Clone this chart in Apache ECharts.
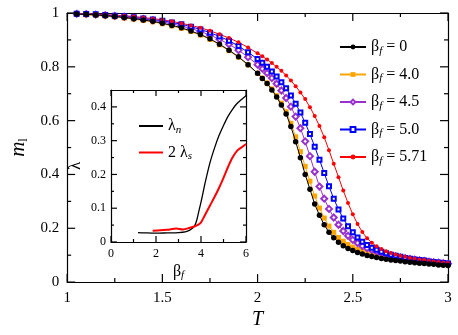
<!DOCTYPE html>
<html>
<head>
<meta charset="utf-8">
<script src="https://cdn.jsdelivr.net/npm/echarts@6/dist/echarts.min.js"></script>
<style>
html, body { margin: 0; padding: 0; background: #fff; }
#chart { width: 458px; height: 335px; }
</style>
</head>
<body>
<div id="chart"></div>
<script>
// temperatures (step 0.05 up to 2, then 0.025)
var temps = [1.05, 1.1, 1.15, 1.2, 1.25, 1.3, 1.35, 1.4, 1.45, 1.5, 1.55, 1.6, 1.65, 1.7, 1.75, 1.8, 1.85, 1.9, 1.95, 2.0,
    2.025, 2.05, 2.075, 2.1, 2.125, 2.15, 2.175, 2.2, 2.225, 2.25, 2.275, 2.3, 2.325, 2.35, 2.375, 2.4, 2.425, 2.45, 2.475, 2.5,
    2.525, 2.55, 2.575, 2.6, 2.625, 2.65, 2.675, 2.7, 2.725, 2.75, 2.775, 2.8, 2.825, 2.85, 2.875, 2.9, 2.925, 2.95, 2.975, 3.0];

var mBeta0 = [0.996, 0.995, 0.993, 0.990, 0.987, 0.983, 0.979, 0.974, 0.969, 0.962, 0.954, 0.945, 0.933, 0.920, 0.904, 0.884, 0.862, 0.837, 0.808, 0.776,
    0.757, 0.738, 0.714, 0.688, 0.658, 0.625, 0.578, 0.522, 0.462, 0.400, 0.345, 0.290, 0.248, 0.213, 0.185, 0.165, 0.148, 0.135, 0.125, 0.117,
    0.110, 0.104, 0.099, 0.095, 0.091, 0.088, 0.085, 0.082, 0.080, 0.078, 0.076, 0.074, 0.072, 0.070, 0.069, 0.067, 0.066, 0.064, 0.063, 0.062];
var mBeta40 = [0.995, 0.993, 0.991, 0.988, 0.985, 0.981, 0.977, 0.972, 0.967, 0.960, 0.952, 0.943, 0.931, 0.918, 0.902, 0.882, 0.860, 0.836, 0.807, 0.776,
    0.758, 0.740, 0.718, 0.693, 0.665, 0.633, 0.590, 0.540, 0.485, 0.430, 0.375, 0.320, 0.275, 0.238, 0.208, 0.185, 0.166, 0.152, 0.140, 0.130,
    0.122, 0.115, 0.109, 0.104, 0.099, 0.095, 0.092, 0.089, 0.086, 0.083, 0.081, 0.079, 0.077, 0.075, 0.073, 0.071, 0.069, 0.068, 0.066, 0.065];
var mBeta45 = [0.997, 0.996, 0.994, 0.992, 0.989, 0.986, 0.982, 0.978, 0.973, 0.967, 0.960, 0.952, 0.942, 0.931, 0.918, 0.902, 0.884, 0.862, 0.836, 0.808,
    0.793, 0.777, 0.758, 0.737, 0.712, 0.684, 0.652, 0.615, 0.572, 0.523, 0.468, 0.410, 0.355, 0.310, 0.272, 0.240, 0.213, 0.190, 0.172, 0.157,
    0.145, 0.134, 0.126, 0.119, 0.113, 0.108, 0.103, 0.099, 0.095, 0.092, 0.089, 0.086, 0.083, 0.081, 0.079, 0.076, 0.074, 0.072, 0.070, 0.068];
var mBeta50 = [0.997, 0.996, 0.995, 0.993, 0.990, 0.988, 0.984, 0.980, 0.976, 0.971, 0.965, 0.958, 0.949, 0.939, 0.927, 0.913, 0.897, 0.877, 0.854, 0.829,
    0.815, 0.800, 0.783, 0.764, 0.743, 0.720, 0.693, 0.663, 0.630, 0.592, 0.550, 0.503, 0.455, 0.405, 0.356, 0.310, 0.270, 0.236, 0.208, 0.185,
    0.166, 0.150, 0.138, 0.128, 0.120, 0.113, 0.107, 0.102, 0.098, 0.094, 0.090, 0.087, 0.084, 0.082, 0.080, 0.077, 0.075, 0.073, 0.071, 0.069];
var mBeta571 = [0.998, 0.997, 0.996, 0.994, 0.992, 0.990, 0.987, 0.983, 0.979, 0.975, 0.969, 0.962, 0.954, 0.945, 0.934, 0.921, 0.907, 0.891, 0.872, 0.850,
    0.839, 0.827, 0.814, 0.800, 0.785, 0.768, 0.749, 0.728, 0.705, 0.680, 0.650, 0.617, 0.580, 0.538, 0.490, 0.440, 0.390, 0.340, 0.294, 0.252,
    0.216, 0.186, 0.163, 0.146, 0.133, 0.123, 0.115, 0.108, 0.103, 0.098, 0.094, 0.090, 0.087, 0.084, 0.082, 0.079, 0.077, 0.075, 0.073, 0.071];

var legendNames = ['0', '4.0', '4.5', '5.0', '5.71'];

// inset: lambda vs beta_f
var betaN = [1.2, 1.5, 2.0, 2.5, 3.0, 3.3, 3.5, 3.7, 3.8, 3.9, 4.0, 4.2, 4.4, 4.6, 4.8, 5.0, 5.2, 5.4, 5.6, 5.8, 6.0];
var lambdaN = [0.028, 0.027, 0.026, 0.027, 0.028, 0.030, 0.035, 0.046, 0.062, 0.090, 0.118, 0.180, 0.235, 0.278, 0.315, 0.345, 0.372, 0.393, 0.410, 0.422, 0.433];
var betaS = [1.85, 2.2, 2.5, 2.9, 3.2, 3.5, 3.7, 3.9, 4.0, 4.1, 4.2, 4.4, 4.6, 4.8, 5.0, 5.2, 5.4, 5.6, 5.8, 6.0];
var lambdaS = [0.033, 0.035, 0.036, 0.040, 0.037, 0.042, 0.046, 0.052, 0.058, 0.070, 0.083, 0.108, 0.133, 0.160, 0.190, 0.222, 0.250, 0.270, 0.280, 0.290];

// tick positions (major / minor) for the framed axes
var mainXMajor = [1, 1.5, 2, 2.5, 3];
var mainXMinor = [1.25, 1.75, 2.25, 2.75];
var mainYMajor = [0, 0.2, 0.4, 0.6, 0.8, 1];
var mainYMinor = [0.1, 0.3, 0.5, 0.7, 0.9];
var insetXMajor = [0, 2, 4, 6];
var insetXMinor = [1, 3, 5];
var insetYMajor = [0, 0.1, 0.2, 0.3, 0.4];
var insetYMinor = [0.05, 0.15, 0.25, 0.35];

var FONT = 'Liberation Serif';

function pairs(xs, ys) {
    return xs.map(function (x, i) { return [x, ys[i]]; });
}

// [value, isMajor, direction(0 = x, 1 = y)]
function tickRows(xMaj, xMin, yMaj, yMin) {
    var rows = [];
    xMaj.forEach(function (v) { rows.push([v, 1, 0]); });
    xMin.forEach(function (v) { rows.push([v, 0, 0]); });
    yMaj.forEach(function (v) { rows.push([v, 1, 1]); });
    yMin.forEach(function (v) { rows.push([v, 0, 1]); });
    return rows;
}

// axis ticks drawn inward on all four sides of a frame
function tickRenderer(x0, x1, y0, y1, len) {
    return function (params, api) {
        var v = api.value(0);
        var L = api.value(1) === 1 ? len : len / 2;
        var st = { stroke: '#000', lineWidth: 1.2 };
        var a, b;
        if (api.value(2) === 0) {
            a = api.coord([v, y0]);
            b = api.coord([v, y1]);
            return { type: 'group', children: [
                { type: 'line', shape: { x1: a[0], y1: a[1], x2: a[0], y2: a[1] - L }, style: st },
                { type: 'line', shape: { x1: b[0], y1: b[1], x2: b[0], y2: b[1] + L }, style: st }
            ] };
        }
        a = api.coord([x0, v]);
        b = api.coord([x1, v]);
        return { type: 'group', children: [
            { type: 'line', shape: { x1: a[0], y1: a[1], x2: a[0] + L, y2: a[1] }, style: st },
            { type: 'line', shape: { x1: b[0], y1: b[1], x2: b[0] - L, y2: b[1] }, style: st }
        ] };
    };
}

function frameAxis(pos, grid, min, max, step, opts) {
    var ax = {
        type: 'value',
        position: pos,
        gridIndex: grid,
        min: min,
        max: max,
        interval: step,
        axisLine: { show: true, onZero: false, lineStyle: { color: '#000', width: 1.2 } },
        axisTick: { show: false },
        minorTick: { show: false },
        splitLine: { show: false },
        axisLabel: { show: false }
    };
    if (opts.label) {
        ax.axisLabel = {
            show: true, color: '#000', fontFamily: FONT, fontSize: opts.fs, margin: opts.margin,
            showMaxLabel: opts.showMax !== false
        };
    }
    return ax;
}

var chart = echarts.init(document.getElementById('chart'));

var subStyle = { fontFamily: FONT, fontSize: 11, fontStyle: 'italic', padding: [8, 0, 0, 0] };

var option = {
    animation: false,
    backgroundColor: '#fff',
    grid: [
        { left: 55, right: 10, top: 13, bottom: 43 },
        { left: 111, top: 90, width: 135, height: 152, show: true, backgroundColor: '#fff', borderWidth: 0, z: 5 }
    ],
    xAxis: [
        Object.assign(frameAxis('bottom', 0, 1, 3, 0.5, { label: true, fs: 15, margin: 8 }), {
            name: 'T', nameLocation: 'middle', nameGap: 24,
            nameTextStyle: { fontFamily: FONT, fontSize: 20, fontStyle: 'italic', color: '#000' }
        }),
        frameAxis('top', 0, 1, 3, 0.5, {}),
        Object.assign(frameAxis('bottom', 1, 0, 6, 2, { label: true, fs: 12, margin: 6 }), {
            name: 'β{s|f}', nameLocation: 'middle', nameGap: 20, z: 6,
            nameTextStyle: { fontFamily: FONT, fontSize: 16, color: '#000', rich: { s: subStyle } }
        }),
        Object.assign(frameAxis('top', 1, 0, 6, 2, {}), { z: 6 })
    ],
    yAxis: [
        Object.assign(frameAxis('left', 0, 0, 1, 0.2, { label: true, fs: 15, margin: 8 }), {
            name: '{i|m}{s|l}', nameLocation: 'middle', nameGap: 34, nameRotate: 90,
            nameTextStyle: { color: '#000',
                rich: {
                    i: { fontFamily: FONT, fontSize: 21, fontStyle: 'italic' },
                    s: { fontFamily: FONT, fontSize: 12, padding: [10, 0, 0, 0] }
                } }
        }),
        frameAxis('right', 0, 0, 1, 0.2, {}),
        Object.assign(frameAxis('left', 1, 0, 0.45, 0.1, { label: true, fs: 12, margin: 5, showMax: false }), {
            name: 'λ', nameLocation: 'middle', nameGap: 27, nameRotate: 90, z: 6,
            nameTextStyle: { fontFamily: FONT, fontSize: 17, color: '#000' }
        }),
        Object.assign(frameAxis('right', 1, 0, 0.45, 0.1, {}), { z: 6 })
    ],
    legend: [
        {
            left: 334, top: 34, orient: 'vertical', itemWidth: 26, itemHeight: 6, itemGap: 10,
            data: legendNames,
            formatter: function (n) { return 'β{s|f} = ' + n; },
            textStyle: { fontFamily: FONT, fontSize: 16, color: '#000', rich: { s: subStyle } }
        },
        {
            left: 133, top: 113, orient: 'vertical', itemWidth: 24, itemHeight: 4, itemGap: 9, z: 7,
            data: ['n', 's'],
            itemStyle: { opacity: 0 },
            formatter: function (n) { return n === 'n' ? 'λ{s|n}' : '2 λ{s|s}'; },
            textStyle: { fontFamily: FONT, fontSize: 16, color: '#000', rich: { s: subStyle } }
        }
    ],
    series: [
        { name: '4.0', type: 'line', data: pairs(temps, mBeta40), symbol: 'rect', symbolSize: 5,
          itemStyle: { color: '#ffa500' }, lineStyle: { color: '#ffa500', width: 1 }, z: 2 },
        { name: '4.5', type: 'line', data: pairs(temps, mBeta45), symbol: 'emptyDiamond', symbolSize: 6,
          itemStyle: { color: '#9932cc', borderWidth: 1 }, lineStyle: { color: '#9932cc', width: 1 }, z: 2 },
        { name: '5.0', type: 'line', data: pairs(temps, mBeta50), symbol: 'emptyRect', symbolSize: 4,
          itemStyle: { color: '#0000ff', borderWidth: 1 }, lineStyle: { color: '#0000ff', width: 1 }, z: 2 },
        { name: '5.71', type: 'line', data: pairs(temps, mBeta571), symbol: 'circle', symbolSize: 4,
          itemStyle: { color: '#ff0000' }, lineStyle: { color: '#ff0000', width: 1 }, z: 2 },
        { name: '0', type: 'line', data: pairs(temps, mBeta0), symbol: 'circle', symbolSize: 5.5,
          itemStyle: { color: '#000' }, lineStyle: { color: '#000', width: 1 }, z: 3 },
        { name: 'n', type: 'line', xAxisIndex: 2, yAxisIndex: 2, data: pairs(betaN, lambdaN), showSymbol: false,
          symbol: 'none', smooth: 0.3, itemStyle: { color: '#000' }, lineStyle: { color: '#000', width: 1.3 }, z: 7 },
        { name: 's', type: 'line', xAxisIndex: 2, yAxisIndex: 2, data: pairs(betaS, lambdaS), showSymbol: false,
          symbol: 'none', smooth: 0.3, itemStyle: { color: '#ff0000' }, lineStyle: { color: '#ff0000', width: 2 }, z: 7 },
        // frame ticks
        { type: 'custom', xAxisIndex: 0, yAxisIndex: 0, silent: true, z: 4,
          data: tickRows(mainXMajor, mainXMinor, mainYMajor, mainYMinor),
          renderItem: tickRenderer(1, 3, 0, 1, 8) },
        { type: 'custom', xAxisIndex: 2, yAxisIndex: 2, silent: true, z: 8,
          data: tickRows(insetXMajor, insetXMinor, insetYMajor, insetYMinor),
          renderItem: tickRenderer(0, 6, 0, 0.45, 6) }
    ]
};

chart.setOption(option);
window.addEventListener('resize', function () {
    chart.resize();
});
</script>
</body>
</html>
